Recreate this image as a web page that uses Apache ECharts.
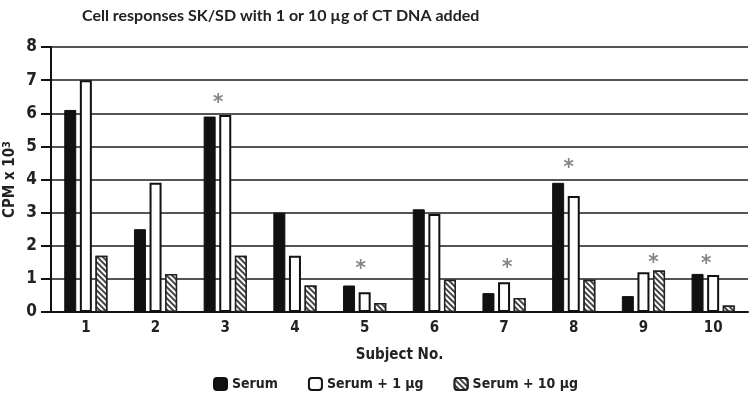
<!DOCTYPE html>
<html><head><meta charset="utf-8">
<script src="https://cdn.jsdelivr.net/npm/echarts@6/dist/echarts.min.js"></script>
<style>html,body{margin:0;padding:0;background:#fff}#c{width:750px;height:400px}</style>
</head><body><div id="c"></div>
<script>
var subjects = ['1','2','3','4','5','6','7','8','9','10'];
var serum    = [6.1, 2.5, 5.9, 3.0, 0.8, 3.1, 0.57, 3.9, 0.48, 1.15];
var serum1   = [7.0, 3.9, 5.95, 1.7, 0.6, 2.96, 0.9, 3.5, 1.2, 1.12];
var serum10  = [1.7, 1.15, 1.7, 0.8, 0.27, 0.97, 0.42, 0.97, 1.25, 0.2];
// asterisks: subject, height (value units), horizontal nudge
var starSubjects = ['3','5','7','8','9','10'];
var starValues   = [6.45, 1.45, 1.48, 4.5, 1.63, 1.6];
var starNudge    = [-7, -4, 3, -5, 10, -7];

var F = '"DejaVu Sans Condensed", "Liberation Sans", Arial, sans-serif';
var chart = echarts.init(document.getElementById('c'), null, {renderer:'canvas'});
var hatch = {symbol:'rect', symbolSize:1, dashArrayX:[1,0], dashArrayY:[2,2], rotation:Math.PI/4, color:'#444', backgroundColor:'#fff'};
chart.setOption({
  animation:false,
  backgroundColor:'#fff',
  title:{text:'Cell responses SK/SD with 1 or 10 µg of CT DNA added', left:77, top:3,
    textStyle:{fontFamily:'Lato, sans-serif', fontWeight:'bold', fontSize:16, color:'#222'}},
  grid:{left:51, right:2, top:47, bottom:88, containLabel:false, outerBoundsMode:'none'},
  legend:{bottom:4, left:208, itemWidth:13, itemHeight:12, itemGap:30,
    textStyle:{fontFamily:F, fontWeight:'bold', fontSize:14, color:'#222'},
    data:['Serum','Serum + 1 µg','Serum + 10 µg']},
  xAxis:{type:'category', data:subjects,
    name:'Subject No.', nameLocation:'middle', nameGap:36,
    nameTextStyle:{fontFamily:F, fontWeight:'bold', fontSize:15, color:'#222'},
    axisLine:{lineStyle:{color:'#111', width:2}},
    axisTick:{show:false},
    axisLabel:{fontFamily:F, fontWeight:'bold', fontSize:15, color:'#222', margin:9}},
  yAxis:{type:'value', min:0, max:8, interval:1,
    name:'{a|CPM x 10}{b|3}', nameLocation:'middle', nameGap:32, nameRotate:90, nameMoveOverlap:false,
    nameTextStyle:{fontFamily:F, fontWeight:'bold', fontSize:15, color:'#222',
      rich:{a:{fontFamily:F, fontWeight:'bold', fontSize:15, color:'#222'},
            b:{fontFamily:F, fontWeight:'bold', fontSize:11, color:'#222', verticalAlign:'top', padding:[0,0,6,0]}}},
    axisLine:{show:true, lineStyle:{color:'#111', width:2}},
    axisTick:{show:true, inside:false, length:10, lineStyle:{color:'#111', width:2}},
    axisLabel:{fontFamily:F, fontWeight:'bold', fontSize:17, color:'#222', margin:14},
    splitLine:{lineStyle:{color:'#555', width:2}}},
  series:[
    {name:'Serum', type:'bar', data:serum, barWidth:12, barGap:'30%',
      itemStyle:{color:'#111', borderColor:'#111', borderWidth:1}},
    {name:'Serum + 1 µg', type:'bar', data:serum1, barWidth:12,
      itemStyle:{color:'#fff', borderColor:'#111', borderWidth:2}},
    {name:'Serum + 10 µg', type:'bar', data:serum10, barWidth:12,
      itemStyle:{color:'#fff', borderColor:'#222', borderWidth:1.5, decal:hatch}},
    {name:'star', type:'scatter', symbol:'circle', symbolSize:1, silent:true,
      itemStyle:{color:'rgba(0,0,0,0)'},
      data:starSubjects.map(function(s,i){return {value:[s, starValues[i]],
        label:{show:true, formatter:'*', position:'inside', offset:[starNudge[i], 5],
          fontSize:22, fontWeight:'bold', color:'#666', fontFamily:F}};})}
  ]
});
</script></body></html>
